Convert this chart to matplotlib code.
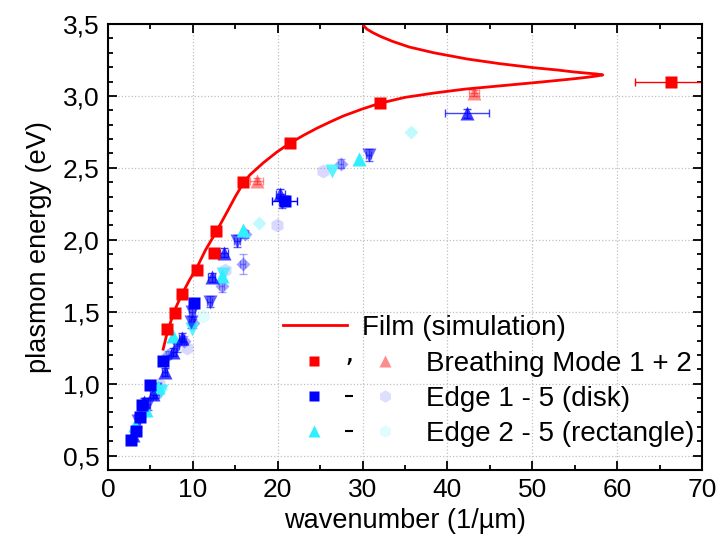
import matplotlib
matplotlib.use("Agg")
from matplotlib import pyplot as plt
from matplotlib.lines import Line2D
from matplotlib.legend_handler import HandlerTuple
from matplotlib.ticker import MultipleLocator, FuncFormatter

plt.rcParams['font.family'] = ['Liberation Sans', 'DejaVu Sans']

RED = "#ff0000"
BLUE = "#0000ff"
CYAN = "#30f0ff"

# film simulation (dispersion curve, back-bending at the top)
film_k = [6.5, 7.0, 7.5, 8.0, 8.7, 9.6, 10.5, 11.5, 12.7, 14.0, 15.0, 15.9, 16.7, 18.3, 19.9,
          21.4, 23.0, 24.6, 26.2, 27.7, 30.0, 32.1, 35.0, 38.4, 42.0, 46.2, 50.2, 53.0, 55.0,
          56.5, 57.5, 58.3, 57.5, 56.5, 55.0, 53.0, 50.2, 46.2, 42.3, 38.4, 35.5, 33.5, 32.1,
          31.2, 30.5, 30.1, 30.0]
film_e = [1.24, 1.36, 1.45, 1.53, 1.62, 1.72, 1.81, 1.93, 2.05, 2.19, 2.30, 2.39, 2.45, 2.535, 2.61,
          2.67, 2.725, 2.775, 2.82, 2.86, 2.91, 2.95, 2.99, 3.02, 3.047, 3.07, 3.092, 3.108, 3.12,
          3.13, 3.138, 3.146, 3.153, 3.158, 3.166, 3.18, 3.196, 3.224, 3.257, 3.30, 3.34, 3.38, 3.414,
          3.44, 3.465, 3.49, 3.53]

# breathing mode 1 / 2
bm1_k = [6.9, 7.9, 8.7, 10.5, 12.5, 12.7, 15.9, 21.4, 32.1, 66.3]
bm1_e = [1.38, 1.49, 1.62, 1.79, 1.91, 2.06, 2.40, 2.67, 2.95, 3.10]
bm1_kerr = [0, 0, 0, 0, 0, 0, 0, 0, 0.3, 4.2]
bm2_k = [17.5, 43.1]
bm2_e = [2.41, 3.02]
bm2_kerr = [0.8, 0.6]

# edges, disk
d1_k = [2.7, 3.3, 3.8, 4.0, 5.0, 6.5, 10.1, 20.8]
d1_e = [0.61, 0.67, 0.77, 0.85, 0.99, 1.16, 1.56, 2.27]
d1_kerr = [0, 0, 0, 0, 0, 0, 0, 1.5]
d2_k = [3.0, 4.3, 5.3, 6.7, 7.7, 8.7, 12.2, 13.7, 20.3, 42.3]
d2_e = [0.64, 0.87, 0.93, 1.08, 1.22, 1.32, 1.74, 1.91, 2.32, 2.88]
d2_kerr = [0.3, 0.3, 0.3, 0.3, 0.3, 0.3, 0.4, 0.5, 0.5, 2.6]
d3_k = [3.5, 4.7, 5.5, 8.1, 9.8, 9.9, 12.0, 15.2, 20.5, 30.7]
d3_e = [0.74, 0.86, 0.96, 1.26, 1.43, 1.50, 1.57, 1.99, 2.26, 2.59]
d4_k = [4.0, 5.7, 7.1, 8.9, 10.0, 13.4, 15.9, 16.2, 27.4]
d4_e = [0.79, 0.93, 1.20, 1.30, 1.42, 1.68, 1.83, 2.04, 2.53]
d4_eerr = [0.03, 0.03, 0.03, 0.03, 0.03, 0.04, 0.07, 0.03, 0.03]
d5_k = [6.0, 9.3, 13.8, 19.9, 25.3]
d5_e = [1.00, 1.25, 1.79, 2.10, 2.48]

# edges, rectangle
r2_k = [3.2, 4.5, 5.9, 7.7, 13.4, 15.9, 29.6]
r2_e = [0.71, 0.82, 0.98, 1.33, 1.75, 2.07, 2.56]
r3_k = [6.3, 9.85, 13.6, 26.4]
r3_e = [0.95, 1.38, 1.76, 2.48]
r4_k = [6.3, 17.8, 35.7]
r4_e = [0.96, 2.12, 2.75]
r5_k = [7.0, 11.2]
r5_e = [1.20, 1.47]

fig = plt.figure(figsize=(7.18, 5.39), dpi=100)
ax = fig.add_axes([108 / 718, 1 - 470 / 539, 594 / 718, 446 / 539])

eb = dict(capsize=3, elinewidth=1, capthick=1, linestyle='none')
ax.errorbar(r5_k, r5_e, fmt='h', ms=10, color=CYAN, mec='none', alpha=0.15, **eb)
ax.errorbar(d5_k, d5_e, fmt='h', ms=10, color=BLUE, mec='none', alpha=0.15, **eb)
ax.errorbar(r4_k, r4_e, fmt='D', ms=7.5, color=CYAN, mec='none', alpha=0.3, **eb)
ax.errorbar(d4_k, d4_e, yerr=d4_eerr, xerr=0.3, fmt='D', ms=7.5, color=BLUE, mec='none', alpha=0.35, **eb)
ax.errorbar(r3_k, r3_e, fmt='v', ms=10, color=CYAN, mec='none', alpha=0.8, **eb)
ax.errorbar(d3_k, d3_e, yerr=0.04, xerr=0.3, fmt='v', ms=10, color=BLUE, mec='none', alpha=0.6, **eb)
ax.errorbar(r2_k, r2_e, fmt='^', ms=10, color=CYAN, mec='none', **eb)
ax.errorbar(d2_k, d2_e, yerr=0.03, xerr=d2_kerr, fmt='^', ms=10, color=BLUE, mec='none', alpha=0.75, **eb)
ax.errorbar(d1_k, d1_e, xerr=d1_kerr, fmt='s', ms=8, color=BLUE, mec='none', **eb)
ax.errorbar(bm2_k, bm2_e, yerr=0.02, xerr=bm2_kerr, fmt='^', ms=10, color=RED, mec='none', alpha=0.45, **eb)
ax.plot(film_k, film_e, color=RED, lw=2)
ax.errorbar(bm1_k, bm1_e, xerr=bm1_kerr, fmt='s', ms=8, color=RED, mec='none', **eb)

ax.set_xlim(0, 70)
ax.set_ylim(0.4, 3.5)
ax.xaxis.set_major_locator(MultipleLocator(10))
ax.xaxis.set_minor_locator(MultipleLocator(5))
ax.yaxis.set_major_locator(MultipleLocator(0.5))
ax.yaxis.set_minor_locator(MultipleLocator(0.1))
ax.yaxis.set_major_formatter(FuncFormatter(lambda v, p: f"{v:.1f}".replace('.', ',')))
ax.tick_params(which='both', direction='in', top=True, right=True, labelsize=19, width=1.3)
ax.tick_params(which='major', length=6.5, pad=6)
ax.tick_params(which='minor', length=3.6)
for s in ax.spines.values():
    s.set_linewidth(1.5)
ax.grid(True, which='major', linestyle=':', color='#c0c0c0', lw=0.9)
ax.set_axisbelow(True)

ax.set_xlabel('wavenumber (1/µm)', fontsize=19.5, labelpad=4)
ax.set_ylabel('plasmon energy (eV)', fontsize=19.5, labelpad=8)

# legends
film_h = Line2D([], [], color=RED, lw=2)
leg1 = ax.legend([film_h], ['Film (simulation)'], loc='center left',
                 bbox_to_anchor=(283 / 718, 1 - 328 / 539), bbox_transform=fig.transFigure,
                 frameon=False, fontsize=20, borderpad=0, borderaxespad=0,
                 handlelength=2.3, handletextpad=0.55)
ax.add_artist(leg1)


def mk(marker, color, alpha=1.0, ms=7.5):
    return Line2D([], [], marker=marker, color=color, mec='none', ms=ms, alpha=alpha, linestyle='none')


comma = Line2D([], [], marker='$,$', color='black', ms=5, mew=0, linestyle='none')
dash = Line2D([], [], marker='_', color='black', ms=6, mew=1.5, linestyle='none')
rows = [(mk('s', RED), comma, mk('^', RED, 0.45, 9)),
        (mk('s', BLUE), dash, mk('h', BLUE, 0.13, 9)),
        (mk('^', CYAN, 1.0, 9), dash, mk('h', CYAN, 0.15, 9))]
labels = ['Breathing Mode 1 + 2', 'Edge 1 - 5 (disk)', 'Edge 2 - 5 (rectangle)']
ax.legend(rows, labels, loc='center left',
          bbox_to_anchor=(296 / 718, 1 - 399 / 539), bbox_transform=fig.transFigure,
          frameon=False, fontsize=20, borderpad=0, borderaxespad=0,
          handlelength=3.83, handletextpad=0.85, labelspacing=0.32,
          handler_map={tuple: HandlerTuple(ndivide=None, pad=0)})

fig.savefig('out.png', dpi=100)
